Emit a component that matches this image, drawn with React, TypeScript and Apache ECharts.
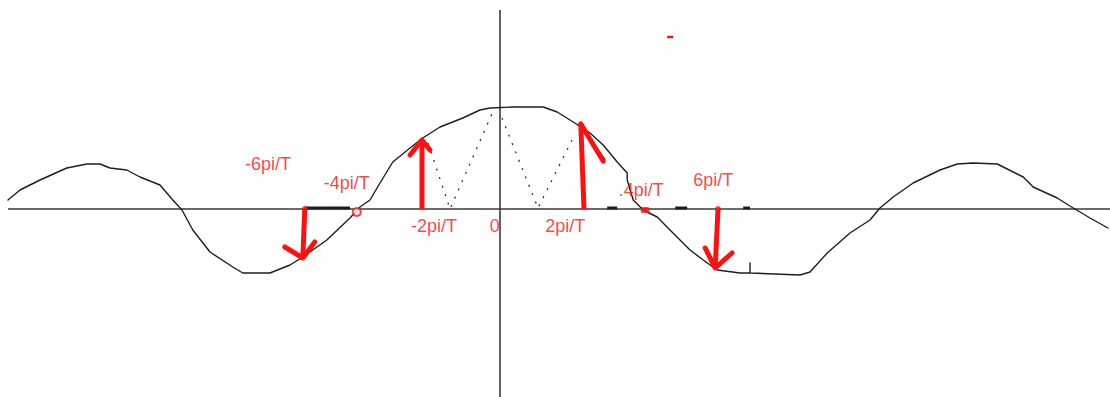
import React, { useEffect, useRef } from "react";
import * as echarts from "echarts";

// Horizontal unit: pi/T. Vertical unit: amplitude of the main lobe.
const X_MIN = -12.5;
const X_MAX = 15.25;
const Y_MIN = -1.88;
const Y_MAX = 2.09;

// Hand-drawn spectrum curve (x in pi/T, y in amplitude)
const spectrumCurve: [number, number][] = [
  [-12.3, 0.09], [-12.0, 0.19], [-11.5, 0.29], [-10.83, 0.41], [-10.33, 0.45],
  [-10.0, 0.45], [-9.75, 0.41], [-9.33, 0.39], [-9.0, 0.32], [-8.5, 0.24],
  [-8.18, 0.09], [-7.95, -0.01], [-7.68, -0.21], [-7.25, -0.43], [-6.68, -0.58],
  [-6.43, -0.64], [-5.75, -0.64], [-5.25, -0.56], [-4.93, -0.48], [-4.33, -0.31],
  [-3.75, -0.09], [-3.5, 0.02], [-3.25, 0.09], [-3.0, 0.26], [-2.68, 0.47],
  [-2.25, 0.61], [-1.93, 0.71], [-1.5, 0.82], [-0.93, 0.91], [-0.5, 0.99],
  [-0.25, 1.01], [0.33, 1.02], [1.08, 1.02], [1.43, 0.97], [1.83, 0.87],
  [2.25, 0.76], [2.58, 0.64], [2.93, 0.47], [3.18, 0.36], [3.18, 0.29],
  [3.33, 0.09], [3.58, -0.01], [3.93, -0.08], [4.25, -0.21], [4.75, -0.41],
  [5.08, -0.51], [5.43, -0.61], [6.0, -0.64], [6.25, -0.64], [6.25, -0.54],
  [6.25, -0.64], [7.5, -0.66], [7.75, -0.63], [8.18, -0.44], [8.75, -0.24],
  [9.25, -0.11], [9.5, 0.01], [9.83, 0.12], [10.33, 0.26], [11.0, 0.39],
  [11.43, 0.45], [11.83, 0.46], [12.43, 0.45], [13.08, 0.32], [13.33, 0.22],
  [13.93, 0.11], [14.33, 0.01], [14.75, -0.09], [15.2, -0.19],
];

// Dotted construction lines under the main lobe
const leftVee: [number, number][] = [[-1.8, 0.66], [-1.25, 0.0], [-0.18, 0.97]];
const rightVee: [number, number][] = [[0.05, 0.91], [0.95, 0.01], [1.8, 0.69]];

// Sample arrows: base on the axis, tip on the curve, head wing ends
type Arrow = { base: [number, number]; tip: [number, number]; wings: [number, number][] };
const sampleArrows: Arrow[] = [
  { base: [-4.88, 0.0], tip: [-4.93, -0.49], wings: [[-5.38, -0.38], [-4.63, -0.33]] },
  { base: [-1.95, 0.0], tip: [-1.95, 0.69], wings: [[-2.25, 0.54], [-1.75, 0.59]] },
  { base: [2.1, 0.0], tip: [2.02, 0.85], wings: [[2.02, 0.85], [2.58, 0.48]] },
  { base: [5.45, 0.0], tip: [5.38, -0.59], wings: [[5.13, -0.39], [5.8, -0.44]] },
];

// Frequency labels
const freqLabels = ["-6pi/T", "-4pi/T", "-2pi/T", "0", "2pi/T", ".4pi/T", "6pi/T"];
const labelX = [-5.8, -3.83, -1.65, -0.13, 1.63, 3.53, 5.33];
const labelY = [0.45, 0.26, -0.17, -0.17, -0.17, 0.19, 0.29];

// Zero-crossing markers
const zeroMarks: [number, number][] = [[-3.58, -0.03], [3.63, -0.01]];

// Heavier strokes traced along the axis
const axisStrokes: [number, number][][] = [
  [[-4.88, 0.01], [-3.75, 0.01]],
  [[2.68, 0.01], [2.93, 0.01]],
  [[4.38, 0.01], [4.68, 0.01]],
  [[6.08, 0.01], [6.25, 0.01]],
];

const RED = "#ff1010";
const INK = "#1e1e1e";

function lineSeries(data: [number, number][], color: string, width: number, type: any = "solid", cap: any = "round") {
  return {
    type: "line",
    data,
    showSymbol: false,
    silent: true,
    smooth: false,
    lineStyle: { color, width, type, cap, join: "round" },
    z: 2,
  };
}

export default function App() {
  const ref = useRef<HTMLDivElement>(null);

  useEffect(() => {
    document.body.style.margin = "0";
    if (!ref.current) return;
    const chart = echarts.init(ref.current, undefined, { renderer: "svg" });

    const series: any[] = [];
    // axes
    series.push(lineSeries([[-12.3, 0], [X_MAX, 0]], "#3a3a3a", 1.6, "solid", "butt"));
    series.push(lineSeries([[0, 1.99], [0, Y_MIN]], "#3a3a3a", 1.6, "solid", "butt"));
    axisStrokes.forEach((s) => series.push(lineSeries(s, INK, 3, "solid", "butt")));
    // curve
    series.push(lineSeries(spectrumCurve, INK, 1.4));
    // dotted construction lines
    series.push(lineSeries(leftVee, "#333", 1.3, [2, 7], "butt"));
    series.push(lineSeries(rightVee, "#333", 1.3, [2, 7], "butt"));
    // arrows
    sampleArrows.forEach((a) => {
      const shaft = lineSeries([a.base, a.tip], RED, 5, "solid", "butt");
      shaft.z = 4;
      series.push(shaft);
      const head = lineSeries([a.wings[0], a.tip, a.wings[1]], RED, 5);
      head.z = 4;
      series.push(head);
    });
    // black edge along the long wing of the 2pi/T arrow
    series.push(lineSeries([[2.08, 0.8], [2.62, 0.5]], INK, 1.2));
    // small stray mark
    series.push(lineSeries([[4.18, 1.72], [4.33, 1.72]], RED, 2.5, "solid", "butt"));
    // zero-crossing markers
    series.push({
      type: "scatter",
      silent: true,
      data: [zeroMarks[0]],
      symbol: "emptyCircle",
      symbolSize: 8,
      itemStyle: { color: RED, borderColor: RED, borderWidth: 2 },
      z: 5,
    });
    series.push({
      type: "scatter",
      silent: true,
      data: [zeroMarks[1]],
      symbol: "roundRect",
      symbolSize: [9, 6],
      itemStyle: { color: RED },
      z: 5,
    });
    series.push({
      type: "scatter",
      silent: true,
      data: [[5.45, 0.0], [-4.88, 0.0]],
      symbol: "circle",
      symbolSize: 6,
      itemStyle: { color: RED },
      z: 5,
    });
    // labels
    series.push({
      type: "scatter",
      silent: true,
      symbolSize: 0,
      data: freqLabels.map((name, i) => ({ name, value: [labelX[i], labelY[i]] })),
      label: {
        show: true,
        position: "inside",
        formatter: (p: any) => p.name,
        color: RED,
        fontFamily: "Liberation Sans, Arial, sans-serif",
        fontSize: 18,
      },
      z: 6,
    });

    chart.setOption({
      animation: false,
      backgroundColor: "#ffffff",
      grid: { left: 0, right: 0, top: 0, bottom: 0 },
      xAxis: { type: "value", min: X_MIN, max: X_MAX, show: false },
      yAxis: { type: "value", min: Y_MIN, max: Y_MAX, show: false },
      series,
    });

    return () => chart.dispose();
  }, []);

  return <div ref={ref} style={{ width: 1110, height: 397 }} />;
}
